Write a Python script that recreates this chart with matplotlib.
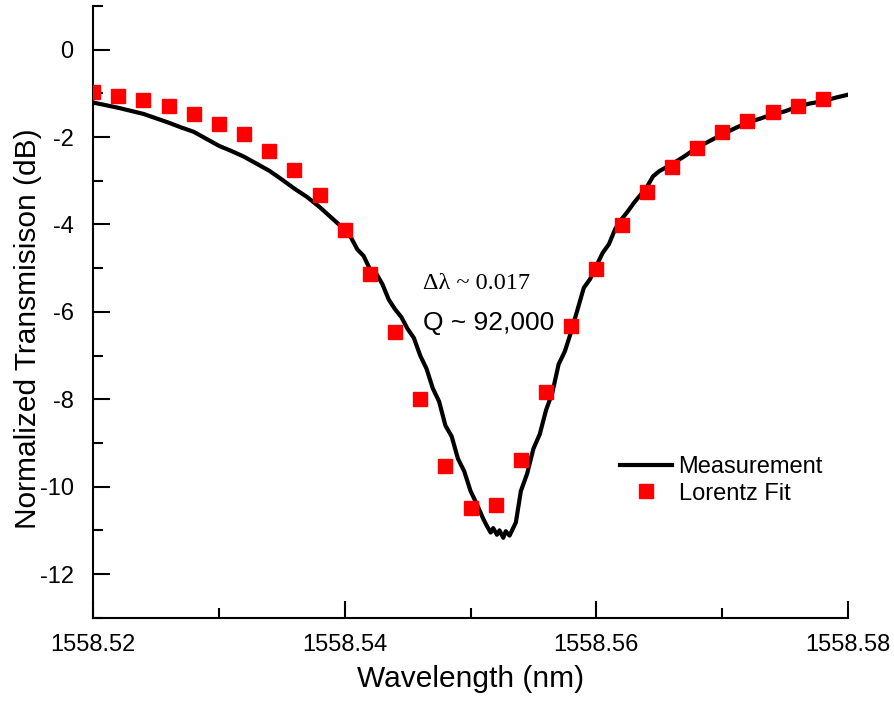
import numpy as np
import matplotlib.pyplot as plt
from matplotlib.ticker import MultipleLocator, FormatStrFormatter

plt.rcParams['font.family'] = ['Liberation Sans', 'DejaVu Sans']
plt.rcParams['axes.unicode_minus'] = False
plt.rcParams['xtick.direction'] = 'in'
plt.rcParams['ytick.direction'] = 'in'

meas_wl = [1558.520, 1558.521, 1558.522, 1558.523, 1558.524, 1558.525, 1558.526,
           1558.527, 1558.528, 1558.529, 1558.530, 1558.531, 1558.532, 1558.533,
           1558.534, 1558.535, 1558.536, 1558.537, 1558.538, 1558.539, 1558.540,
           1558.5405, 1558.541, 1558.5415, 1558.542, 1558.5425, 1558.543,
           1558.5435, 1558.544, 1558.5445, 1558.545, 1558.5455, 1558.546,
           1558.5465, 1558.547, 1558.5475, 1558.548, 1558.5485, 1558.549,
           1558.5495, 1558.550, 1558.5505, 1558.551, 1558.5513, 1558.5516,
           1558.5518, 1558.5521, 1558.5523, 1558.5526, 1558.5528, 1558.5531,
           1558.5533, 1558.5536, 1558.554, 1558.5545, 1558.555, 1558.5555,
           1558.556, 1558.5565, 1558.557, 1558.5575, 1558.558, 1558.5585,
           1558.559, 1558.5595, 1558.560, 1558.5605, 1558.561, 1558.5615,
           1558.562, 1558.5625, 1558.563, 1558.564, 1558.5645, 1558.565,
           1558.566, 1558.567, 1558.568, 1558.569, 1558.570, 1558.571, 1558.572,
           1558.573, 1558.574, 1558.575, 1558.576, 1558.577, 1558.578, 1558.579,
           1558.580]
meas_db = [-1.21, -1.27, -1.33, -1.40, -1.47, -1.57, -1.67,
           -1.78, -1.88, -2.04, -2.20, -2.32, -2.45, -2.61,
           -2.77, -2.97, -3.18, -3.37, -3.60, -3.86, -4.12,
           -4.30, -4.57, -4.72, -5.02, -5.12, -5.37,
           -5.72, -5.94, -6.12, -6.39, -6.60, -7.00,
           -7.30, -7.75, -8.05, -8.60, -8.85, -9.36,
           -9.65, -10.10, -10.40, -10.73, -10.90, -11.05,
           -10.95, -11.10, -11.00, -11.17, -11.02, -11.12,
           -11.00, -10.82, -10.10, -9.70, -9.13, -8.80,
           -8.25, -7.85, -7.20, -6.90, -6.45, -5.95,
           -5.45, -5.25, -4.95, -4.65, -4.45, -4.10,
           -3.88, -3.70, -3.50, -3.15, -2.90, -2.78,
           -2.62, -2.44, -2.24, -2.09, -1.94, -1.80, -1.67,
           -1.58, -1.48, -1.41, -1.30, -1.23, -1.18, -1.10,
           -1.03]

# Lorentz fit points
fit_wl = [1558.520, 1558.522, 1558.524, 1558.526, 1558.528, 1558.530, 1558.532,
          1558.534, 1558.536, 1558.538, 1558.540, 1558.542, 1558.544, 1558.546,
          1558.548, 1558.550, 1558.552, 1558.554, 1558.556, 1558.558, 1558.560,
          1558.562, 1558.564, 1558.566, 1558.568, 1558.570, 1558.572, 1558.574,
          1558.576, 1558.578]
fit_db = [-0.96, -1.05, -1.16, -1.30, -1.48, -1.69, -1.94,
          -2.31, -2.76, -3.33, -4.13, -5.14, -6.46, -7.99,
          -9.52, -10.48, -10.43, -9.38, -7.83, -6.32, -5.02,
          -4.02, -3.26, -2.69, -2.26, -1.89, -1.64, -1.42,
          -1.28, -1.14]

fig = plt.figure(figsize=(8.95, 7.02), dpi=100)
ax = fig.add_axes([0.104, 0.12, 0.8435, 0.8715])

ax.plot(meas_wl, meas_db, color='black', lw=3, label='Measurement', zorder=2)
ax.plot(fit_wl, fit_db, 's', color='#ff0000', ms=9.5, mec='#ff0000',
        label='Lorentz Fit', zorder=3)

ax.set_xlim(1558.52, 1558.58)
ax.set_ylim(-13, 1)
ax.xaxis.set_major_locator(MultipleLocator(0.02))
ax.xaxis.set_minor_locator(MultipleLocator(0.01))
ax.xaxis.set_major_formatter(FormatStrFormatter('%.2f'))
ax.yaxis.set_major_locator(MultipleLocator(2))
ax.yaxis.set_minor_locator(MultipleLocator(1))

ax.spines['top'].set_visible(False)
ax.spines['right'].set_visible(False)
for s in ['left', 'bottom']:
    ax.spines[s].set_linewidth(1.5)
ax.tick_params(which='major', length=12, width=1.5, labelsize=17)
ax.tick_params(which='minor', length=7, width=1.5)
ax.tick_params(axis='x', which='major', pad=12)
ax.tick_params(axis='y', which='major', pad=14)

ax.set_xlabel('Wavelength (nm)', fontsize=21.5, labelpad=6)
ax.set_ylabel('Normalized Transmisison (dB)', fontsize=21.5)
ax.yaxis.set_label_coords(-0.068, 0.472)

ax.text(1558.5462, -5.35, '\u0394\u03bb ~ 0.017', fontsize=17.5,
        family=['Liberation Serif', 'DejaVu Serif'], va='center')
ax.text(1558.5462, -6.25, 'Q ~ 92,000', fontsize=19, va='center')

ax.legend(loc='lower right', bbox_to_anchor=(0.995, 0.15), frameon=False,
          fontsize=17, handlelength=2.2, handletextpad=0.3, labelspacing=0.2)

fig.savefig('out.png', dpi=100)
